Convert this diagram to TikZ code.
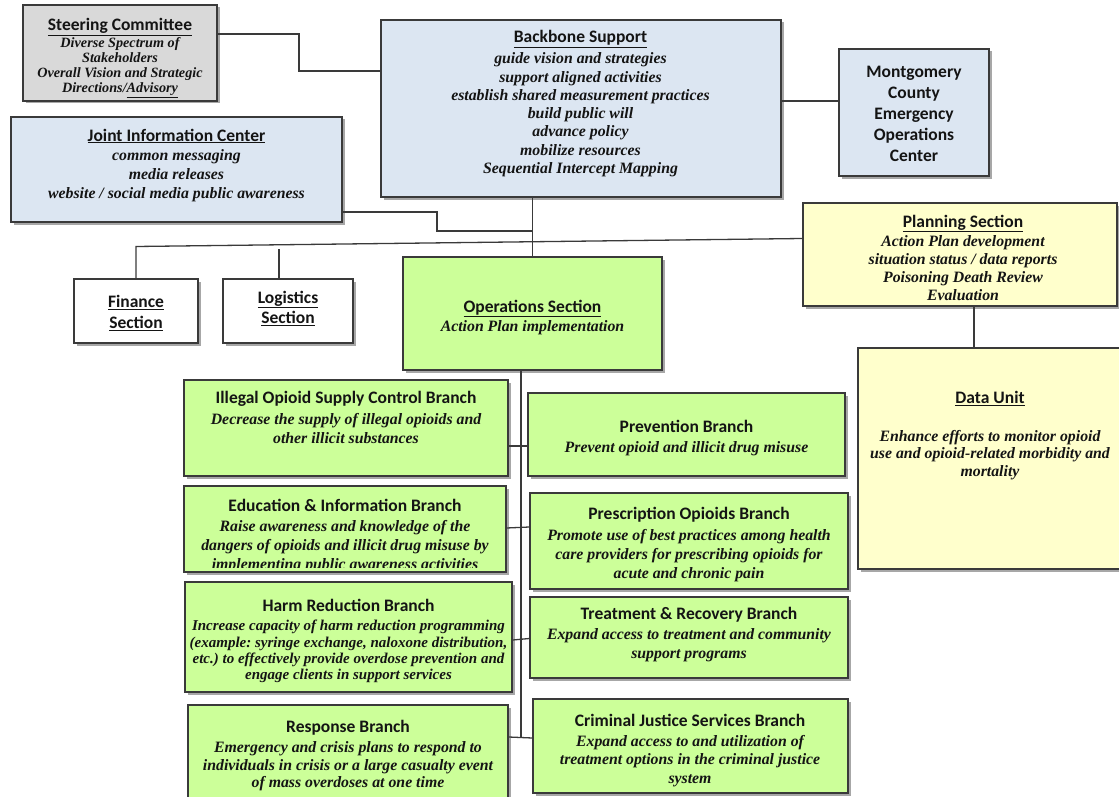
\documentclass[tikz,border=0pt]{standalone}
\usepackage{fontspec}
\setmainfont{Liberation Serif}
\newfontfamily\carlito{Carlito}
\usetikzlibrary{shadows}
\frenchspacing
\definecolor{bxgray}{HTML}{D9D9D9}
\definecolor{bxblue}{HTML}{DCE6F2}
\definecolor{bxyel}{HTML}{FFFFCC}
\definecolor{bxgreen}{HTML}{CCFF99}
\definecolor{lnc}{HTML}{3A3A3A}
\newcommand\ttl[1]{{\carlito\bfseries\upshape\fontsize{17.5}{20}\selectfont\underline{#1}}}
\newcommand\ttn[1]{{\carlito\bfseries\upshape\fontsize{17.5}{20}\selectfont #1}}
\newcommand\bodyf{\fontsize{15.8}{18.3}\selectfont\bfseries\itshape}
\newcommand\mybox[6]{%
  \pgfmathsetmacro\bw{#4-#2}\pgfmathsetmacro\bh{#5-#3}%
  \pgfmathsetmacro\cx{(#2+#4)/2}\pgfmathsetmacro\cy{(#3+#5)/2}%
  \node[box,#6,minimum width=\bw pt,minimum height=\bh pt] (#1) at (\cx,\cy) {};}
\tikzset{
  box/.style={draw=lnc, line width=1.2pt, inner sep=0pt,
    drop shadow={opacity=0.35, fill=black!60, shadow xshift=2.5pt, shadow yshift=-2.5pt}},
  gbox/.style={box, fill=bxgray},
  bbox/.style={box, fill=bxblue},
  ybox/.style={box, fill=bxyel},
  wbox/.style={box, fill=white},
  nbox/.style={box, fill=bxgreen},
  txt/.style={align=center, inner sep=0pt, anchor=north, font=\bodyf, text=black!92},
  conn/.style={draw=lnc, line width=1.3pt},
}
\begin{document}
\begin{tikzpicture}[x=1pt,y=-1pt]
\useasboundingbox (0,0) rectangle (1119,797);
% boxes
\mybox{st}{23}{5}{217}{101}{gbox}
\mybox{bb}{381}{20}{781}{197}{bbox}
\mybox{mc}{839}{49}{989}{176}{bbox}
\mybox{jic}{11}{117}{342}{222}{bbox}
\mybox{pl}{803}{203}{1117}{306}{ybox}
\mybox{du}{858}{348}{1122}{569}{ybox}
\mybox{fin}{74}{279}{198}{343}{wbox}
\mybox{lg}{223}{279}{353}{343}{wbox}
\mybox{ops}{403}{257}{662}{370}{nbox}
\mybox{il}{184}{380}{508}{476}{nbox}
\mybox{pv}{528}{393}{845}{476}{nbox}
\mybox{ed}{184}{486}{506}{572}{nbox}
\mybox{pr}{530}{493}{848}{589}{nbox}
\mybox{hr}{185}{582}{512}{692}{nbox}
\mybox{tr}{530}{597}{848}{678}{nbox}
\mybox{rs}{188}{705}{508}{805}{nbox}
\mybox{cj}{533}{699}{848}{793}{nbox}
% connectors
\draw[conn] (st.east |- 0,34) -- (299,34) -- (299,71) -- (bb.west |- 0,71);
\draw[conn] (bb.east |- 0,101) -- (mc.west |- 0,101);
\draw[conn] (jic.east |- 0,212) -- (437,212) -- (437,231) -- (533,231);
\draw[conn] (bb.south -| ops.north) -- (ops.north);
\draw[conn] (fin.north) -- (fin.north |- 0,246.5) -- (pl.west |- 0,238.5);
\coordinate (lgtop) at (279,249);
\draw[conn] (lgtop) -- (lgtop |- lg.north);
\draw[conn] (pl.south -| 974,0) -- (du.north -| 974,0);
\coordinate (trunkend) at (521,737.5);
\draw[conn] (ops.south -| trunkend) -- (trunkend);
\draw[conn] (il.east |- 0,446) -- (pv.west |- 0,446);
\draw[conn] (ed.east |- 0,528) -- (pr.west |- 0,527);
\draw[conn] (hr.east |- 0,640) -- (tr.west |- 0,638.5);
\draw[conn] (rs.east |- 0,737) -- (cj.west |- 0,738);
% texts
\node[txt, font=\fontsize{14.2}{15}\selectfont\bfseries\itshape] (st-t) at (120,18)
  {\ttl{Steering Committee}\\[2pt] Diverse Spectrum of\\ Stakeholders\\ Overall Vision and Strategic\\ Directions/\underline{Advisory}};
\node[txt] (bb-t) at (580.5,30.5)
  {\ttl{Backbone Support}\\[2.5pt] guide vision and strategies\\ support aligned activities\\ establish shared measurement practices\\ build public will\\ advance policy\\ mobilize resources\\ Sequential Intercept Mapping};
\node[txt, font=\fontsize{15.8}{19}\selectfont\bfseries\itshape] (jic-t) at (176.5,128.5)
  {\ttl{Joint Information Center}\\[0.5pt] common messaging\\ media releases\\ website / social media public awareness};
\node[txt, font=\carlito\bfseries\fontsize{17.5}{21}\selectfont] (mc-t) at (914,65.5)
  {Montgomery\\ County\\ Emergency\\ Operations\\ Center};
\node[txt, font=\fontsize{15.8}{18}\selectfont\bfseries\itshape] (pl-t) at (963,214.5)
  {\ttl{Planning Section}\\[1.5pt] Action Plan development\\ situation status / data reports\\ Poisoning Death Review\\ Evaluation};
\node[txt, font=\fontsize{15.8}{17.5}\selectfont\bfseries\itshape] (du-t) at (990,391.5)
  {\ttl{Data Unit}\\[20pt] Enhance efforts to monitor opioid\\ use and opioid-related morbidity and\\ mortality};
\node[txt, font=\carlito\bfseries\fontsize{17.5}{20.5}\selectfont] (fin-t) at (136,295.5)
  {\underline{Finance}\\ \underline{Section}};
\node[txt, font=\carlito\bfseries\fontsize{17.5}{20.5}\selectfont] (lg-t) at (288,290.5)
  {\underline{Logistics}\\ \underline{Section}};
\node[txt] (ops-t) at (532.5,299.5)
  {\ttl{Operations Section}\\[1.5pt] Action Plan implementation};
\node[txt] (il-t) at (346,391.5)
  {\ttn{Illegal Opioid Supply Control Branch}\\[2.5pt] Decrease the supply of illegal opioids and\\ other illicit substances};
\node[txt] (pv-t) at (686.5,419.5)
  {\ttn{Prevention Branch}\\[2.5pt] Prevent opioid and illicit drug misuse};
\begin{scope}
\clip (184,486) rectangle (506,567);
\node[txt, font=\fontsize{15.8}{19}\selectfont\bfseries\itshape] (ed-t) at (345,498.5)
  {\ttn{Education \& Information Branch}\\[1pt] Raise awareness and knowledge of the\\ dangers of opioids and illicit drug misuse by\\ implementing public awareness activities};
\end{scope}
\node[txt, font=\fontsize{15.8}{19}\selectfont\bfseries\itshape] (pr-t) at (689,506.5)
  {\ttn{Prescription Opioids Branch}\\[2pt] Promote use of best practices among health\\ care providers for prescribing opioids for\\ acute and chronic pain};
\node[txt, font=\fontsize{15}{16.3}\selectfont\bfseries\itshape] (hr-t) at (348.5,598.5)
  {\ttn{Harm Reduction Branch}\\[3.5pt] Increase capacity of harm reduction programming\\ (example: syringe exchange, naloxone distribution,\\ etc.) to effectively provide overdose prevention and\\ engage clients in support services};
\node[txt, font=\fontsize{15.8}{19}\selectfont\bfseries\itshape] (tr-t) at (689,607.5)
  {\ttn{Treatment \& Recovery Branch}\\[1pt] Expand access to treatment and community\\ support programs};
\node[txt, font=\fontsize{15.8}{17.5}\selectfont\bfseries\itshape] (rs-t) at (348,720.5)
  {\ttn{Response Branch}\\[2.5pt] Emergency and crisis plans to respond to\\ individuals in crisis or a large casualty event\\ of mass overdoses at one time};
\node[txt, font=\fontsize{15.8}{18.5}\selectfont\bfseries\itshape] (cj-t) at (690,713.5)
  {\ttn{Criminal Justice Services Branch}\\[1.5pt] Expand access to and utilization of\\ treatment options in the criminal justice\\ system};
\end{tikzpicture}
\end{document}
